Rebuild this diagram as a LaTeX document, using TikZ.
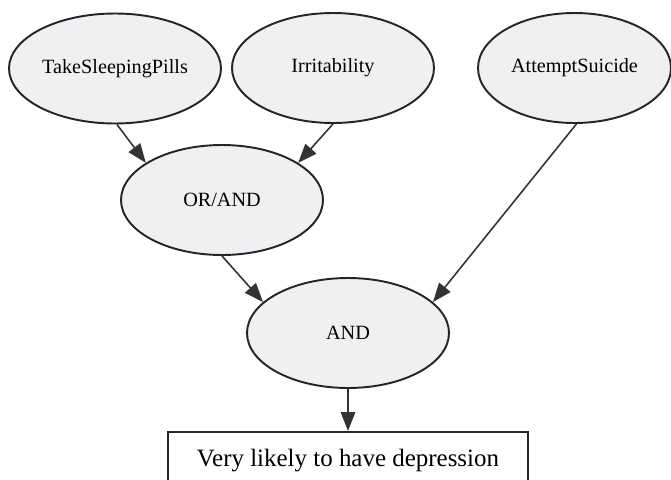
\documentclass[tikz,border=0pt]{standalone}
\usepackage{fontspec}
\setmainfont{Liberation Serif}
\usetikzlibrary{shapes.geometric,arrows.meta}
\definecolor{nodefill}{HTML}{F0F0F0}
\definecolor{nodeline}{HTML}{22262C}
\definecolor{edgeline}{HTML}{333333}
\tikzset{
  cause/.style={shape=ellipse, draw=nodeline, fill=nodefill, line width=1.1pt, inner sep=0pt,
    minimum width=4.04cm, minimum height=2.2cm, font=\fontsize{11.5}{13}\selectfont},
  result/.style={shape=rectangle, draw=nodeline, line width=1.1pt, inner sep=0pt,
    minimum width=7.2cm, minimum height=1.16cm, font=\fontsize{14.2}{16}\selectfont},
  link/.style={draw=edgeline, line width=0.9pt, -{Triangle[length=0.38cm, width=0.29cm]}}
}
\begin{document}
\begin{tikzpicture}
  \useasboundingbox (0, 0) rectangle (13.42, -9.58);
  \clip (0, 0) rectangle (13.42, -9.58);

  \node[cause, minimum width=4.24cm] (pills) at (2.30, -1.37){TakeSleepingPills};
  \node[cause] (irrit) at (6.66, -1.36){Irritability};
  \node[cause, minimum width=3.86cm] (suicide) at (11.49, -1.36){AttemptSuicide};
  \node[cause] (orand) at (4.44, -4.00){OR/AND};
  \node[cause] (and) at (6.96, -6.66){AND};
  \node[result] (verdict) at (6.96, -9.22){Very likely to have depression};

  \draw[link] (pills.-88) to (orand.154);
  \draw[link] (irrit.-90) to (orand.26);
  \draw[link] (orand.-90) to (and.160);
  \draw[link] (suicide.-88) to (and.20);
  \draw[link] (and.south) to (verdict.north);
\end{tikzpicture}
\end{document}
